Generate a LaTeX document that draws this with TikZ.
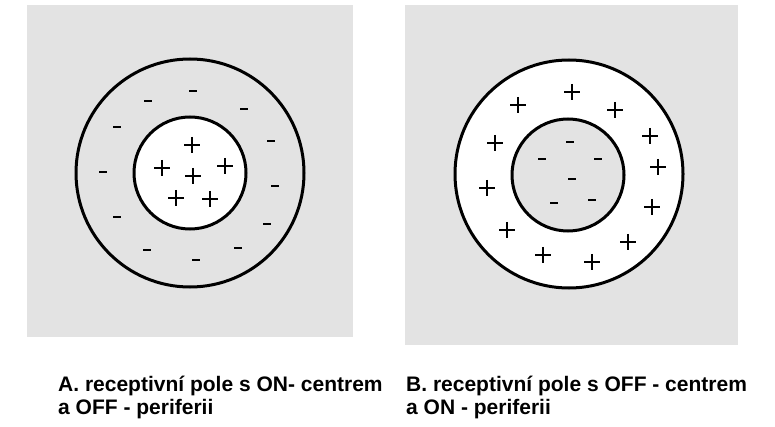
\documentclass[tikz,border=0pt]{standalone}
\usepackage{fontspec}
\setmainfont{Liberation Sans}
\usetikzlibrary{patterns}

\begin{document}
\begin{tikzpicture}[x=1pt, y=-1pt,
    field/.style={fill=gray!22},
    ring/.style={draw=black, line width=3pt},
    plusmark/.style={line width=1.8pt},
    minusmark/.style={line width=2.8pt},
    caption/.style={anchor=north west, align=left, inner sep=0pt,
        font=\bfseries\fontsize{21}{22.5}\selectfont}]
    \useasboundingbox (0,0) rectangle (775,427);
    \pgfmathsetmacro{\rout}{114}
    \pgfmathsetmacro{\rin}{56}

    % A: ON centre
    \coordinate (cA) at (190,173);
    \fill[field] (27,5) rectangle (353,337);
    \draw[ring] (cA) circle[radius=\rout];
    \draw[ring, fill=white] (cA) circle[radius=\rin];
    \foreach \x/\y in {192/145, 162/168, 193/176, 225/166, 176/198, 210/199}
        \draw[plusmark] (\x-8,\y) -- (\x+8,\y) (\x,\y-8) -- (\x,\y+8);
    \foreach \x/\y in {193/91, 148/101, 244/109, 117/127, 271/141, 103/172,
                       275/186, 117/217, 267/224, 147/250, 238/248, 196/260}
        \draw[minusmark] (\x-4,\y) -- (\x+4,\y);

    % B: OFF centre
    \coordinate (cB) at (569,174);
    \fill[field] (405,5) rectangle (738,345);
    \draw[ring, fill=white] (cB) circle[radius=\rout];
    \draw[field, ring] (cB) ++(-1,1) circle[radius=\rin];
    \foreach \x/\y in {572/92, 518/105, 615/110, 495/143, 650/136, 658/167,
                       487/188, 652/207, 507/230, 628/242, 543/255, 592/262}
        \draw[plusmark] (\x-8,\y) -- (\x+8,\y) (\x,\y-8) -- (\x,\y+8);
    \foreach \x/\y in {570/142, 542/159, 598/159, 572/179, 554/203, 592/200}
        \draw[minusmark] (\x-4,\y) -- (\x+4,\y);

    \node[caption] (capA) at (58,376) {A. receptivní pole s ON- centrem\\a OFF - periferii};
    \node[caption] (capB) at (406,376) {B. receptivní pole s OFF - centrem\\a ON - periferii};
\end{tikzpicture}
\end{document}
